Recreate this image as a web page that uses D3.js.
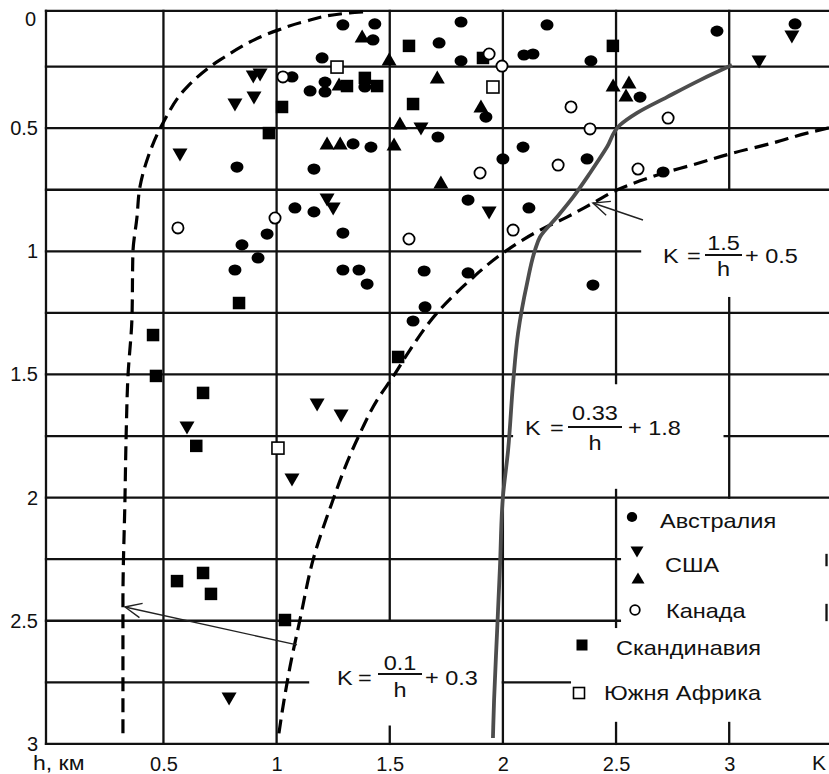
<!DOCTYPE html>
<html><head><meta charset="utf-8">
<script src="https://cdn.jsdelivr.net/npm/d3@7"></script>
<style>
html,body{margin:0;padding:0;background:#fff;}
svg{display:block;font-family:"Liberation Sans",Arial,sans-serif;}
</style></head><body>
<svg id="chart" width="829" height="774"></svg>
<script>
// ---------- DATA (K, h in km) ----------
const australia = [[0.825,0.658],[1.293,0.081],[1.434,0.077],[1.426,0.142],[1.201,0.215],[1.068,0.292],
 [1.214,0.313],[1.148,0.349],[1.214,0.353],[1.39,0.333],[1.718,0.154],[1.815,0.069],[1.815,0.227],
 [2.093,0.203],[2.133,0.199],[2.195,0.081],[1.925,0.455],[1.713,0.536],[1.338,0.564],[1.417,0.577],
 [2.089,0.577],[2.0,0.625],[1.165,0.666],[1.846,0.792],[2.115,0.824],[1.081,0.824],[1.165,0.84],
 [1.293,0.926],[0.958,0.93],[0.847,0.974],[0.918,1.027],[0.816,1.076],[1.293,1.076],[1.364,1.076],
 [1.4,1.133],[1.652,1.08],[1.846,1.088],[1.656,1.226],[1.603,1.283],[2.398,1.137],[2.389,0.227],
 [2.946,0.106],[3.291,0.077],[2.606,0.374],[2.372,0.625],[2.708,0.678]];
const usaDown = [[0.897,0.292],[0.927,0.284],[0.9,0.378],[0.816,0.406],[0.573,0.609],[1.638,0.503],
 [1.939,0.844],[1.223,0.792],[1.25,0.828],[3.277,0.13],[3.132,0.231],[0.604,1.717],[1.179,1.624],
 [1.285,1.669],[1.068,1.929],[0.79,2.818]];
const usaUp = [[1.378,0.126],[1.276,0.321],[1.497,0.219],[1.71,0.292],[1.903,0.41],[1.545,0.479],
 [1.223,0.56],[1.281,0.56],[1.519,0.564],[1.726,0.719],[2.487,0.325],[2.557,0.313],[2.544,0.365]];
const canada = [[1.028,0.292],[1.939,0.199],[1.996,0.248],[0.564,0.905],[0.993,0.865],[1.899,0.682],
 [1.585,0.95],[2.045,0.914],[2.301,0.414],[2.73,0.459],[2.385,0.503],[2.244,0.65],[2.597,0.666]];
const scandinavia = [[0.966,0.52],[1.024,0.414],[1.311,0.329],[1.39,0.296],[1.444,0.329],[1.585,0.166],
 [1.603,0.402],[1.912,0.215],[2.486,0.166],[0.834,1.21],[0.454,1.34],[0.467,1.506],[0.675,1.575],
 [0.645,1.79],[1.537,1.429],[0.56,2.339],[0.675,2.306],[0.71,2.391],[1.037,2.497]];
const southAfrica = [[1.267,0.252],[1.956,0.333],[1.006,1.799]];

// curves (sorted by h)
const curveLow = [[1.382,0.028],[1.324,0.032],[1.117,0.069],[1.006,0.102],[0.75,0.223],[0.604,0.333],
 [0.498,0.479],[0.432,0.617],[0.396,0.739],[0.383,0.861],[0.365,1.007],[0.361,1.267],[0.343,1.51],
 [0.335,1.754],[0.33,2.002],[0.321,2.416],[0.321,2.984]];
const curveHigh = [[3.441,0.499],[3.344,0.52],[3.194,0.56],[3.017,0.601],[2.827,0.652],[2.707,0.683],
 [2.606,0.714],[2.504,0.751],[2.398,0.804],[2.283,0.861],[2.164,0.914],[2.0,1.007],[1.855,1.117],
 [1.709,1.25],[1.589,1.401],[1.514,1.51],[1.444,1.604],[1.369,1.738],[1.31,1.86],[1.249,2.01],
 [1.161,2.253],[1.103,2.497],[1.059,2.688],[1.028,2.85],[1.006,2.984]];
const curveMid = [[3.012,0.244],[2.871,0.305],[2.725,0.374],[2.593,0.438],[2.518,0.487],[2.46,0.577],
 [2.385,0.682],[2.31,0.78],[2.239,0.861],[2.164,0.942],[2.142,0.995],[2.107,1.129],[2.067,1.332],
 [2.045,1.535],[2.023,1.807],[2.0,1.998],[1.987,2.282],[1.974,2.55],[1.961,2.822],[1.956,2.976]];

const xTicks = [0.5,1,1.5,2,2.5,3];
const yTicks = [0,0.5,1,1.5,2,2.5,3];
const legendLabels = ["Австралия","США","Канада","Скандинавия","Южня Африка"];

// ---------- LAYOUT ----------
const svg = d3.select("#chart");
const x = d3.scaleLinear().domain([0,3]).range([50.3,729.2]);
const y = d3.scaleLinear().domain([0,3]).range([5,743.9]);
const K0=-0.019, H0=0.024, KR=3.5, H3=3;

// grid segments: [orientation, fixed, from, to]
const grid = [
 ["h",H0,K0,KR],["h",0.25,K0,KR],["h",0.5,K0,KR],["h",0.75,K0,KR],["h",1,K0,2.606],
 ["h",1.25,K0,KR],["h",1.5,K0,KR],["h",1.75,K0,2.04],["h",1.75,2.98,KR],["h",2,K0,KR],
 ["h",2.25,K0,2.517],["h",2.5,K0,2.517],["h",2.75,K0,1.139],["h",2.75,2.0,2.296],["h",3,K0,KR],
 ["v",K0,H0,H3],["v",0.5,H0,H3],["v",1,H0,H3],["v",1.5,H0,2.5],["v",1.5,2.93,H3],["v",2,H0,H3],
 ["v",2.5,H0,1.535],["v",2.5,1.969,2.525],["v",2.5,2.915,H3],
 ["v",3,H0,0.75],["v",3,1.19,2.0],["v",3,2.915,H3],
 ["v",3.43,2.233,2.274],["v",3.43,2.436,2.497]
];
const gg = svg.append("g").attr("stroke","#111").attr("stroke-width",2.3).attr("stroke-linecap","square");
grid.forEach(s=>{
  if(s[0]==="h") gg.append("line").attr("x1",x(s[2])).attr("x2",x(s[3])).attr("y1",y(s[1])).attr("y2",y(s[1]));
  else gg.append("line").attr("x1",x(s[1])).attr("x2",x(s[1])).attr("y1",y(s[2])).attr("y2",y(s[3]));
});

// curves
const line = d3.line().x(d=>x(d[0])).y(d=>y(d[1])).curve(d3.curveMonotoneY);
svg.append("path").attr("d",line(curveLow)).attr("fill","none").attr("stroke","#000")
  .attr("stroke-width",3.2).attr("stroke-dasharray","14,7");
svg.append("path").attr("d",line(curveHigh)).attr("fill","none").attr("stroke","#000")
  .attr("stroke-width",3.2).attr("stroke-dasharray","14,7");
svg.append("path").attr("d",line(curveMid)).attr("fill","none").attr("stroke","#4d4d4d")
  .attr("stroke-width",3.8);

// arrows
function arrow(from,to){
  const x1=x(from[0]),y1=y(from[1]),x2=x(to[0]),y2=y(to[1]);
  const a=Math.atan2(y1-y2,x1-x2), L=18, s=0.42;
  const g=svg.append("g").attr("stroke","#222").attr("stroke-width",1.4).attr("fill","none");
  g.append("line").attr("x1",x1).attr("y1",y1).attr("x2",x2).attr("y2",y2);
  g.append("path").attr("d",`M${x2+L*Math.cos(a+s)},${y2+L*Math.sin(a+s)}L${x2},${y2}L${x2+L*Math.cos(a-s)},${y2+L*Math.sin(a-s)}`);
}
arrow([2.619,0.873],[2.398,0.804]);
arrow([1.09,2.598],[0.33,2.444]);

// markers
const mk = svg.append("g");
function circleF(g,cx,cy,rx,ry){g.append("ellipse").attr("cx",cx).attr("cy",cy).attr("rx",rx).attr("ry",ry).attr("fill","#000");}
function circleO(g,cx,cy,r){g.append("circle").attr("cx",cx).attr("cy",cy).attr("r",r).attr("fill","#fff").attr("stroke","#000").attr("stroke-width",1.8);}
function tri(g,cx,cy,w,h,down){
  const p = down ? `M${cx-w/2},${cy-h/2}L${cx+w/2},${cy-h/2}L${cx},${cy+h/2}Z`
                 : `M${cx-w/2},${cy+h/2}L${cx+w/2},${cy+h/2}L${cx},${cy-h/2}Z`;
  g.append("path").attr("d",p).attr("fill","#000");
}
function sqF(g,cx,cy,s){g.append("rect").attr("x",cx-s/2).attr("y",cy-s/2).attr("width",s).attr("height",s).attr("fill","#000");}
function sqO(g,cx,cy,s){g.append("rect").attr("x",cx-s/2).attr("y",cy-s/2).attr("width",s).attr("height",s).attr("fill","#fff").attr("stroke","#000").attr("stroke-width",1.6);}

australia.forEach(d=>circleF(mk,x(d[0]),y(d[1]),6.5,5.6));
usaDown.forEach(d=>tri(mk,x(d[0]),y(d[1]),15,13,true));
usaUp.forEach(d=>tri(mk,x(d[0]),y(d[1]),15,13,false));
scandinavia.forEach(d=>sqF(mk,x(d[0]),y(d[1]),12.5));
southAfrica.forEach(d=>sqO(mk,x(d[0]),y(d[1]),12));
canada.forEach(d=>circleO(mk,x(d[0]),y(d[1]),5.6));

// axes
const fs = 20;
const ax = svg.append("g").attr("transform","translate(40,0)")
  .call(d3.axisLeft(y).tickValues(yTicks).tickSize(0).tickPadding(2).tickFormat(d3.format("")));
ax.select(".domain").remove();
ax.selectAll("text").attr("font-size",fs).attr("font-family","Liberation Sans, Arial, sans-serif").attr("fill","#111");
ax.selectAll(".tick").filter(d=>d===0).select("text").attr("dy","1.0em").attr("x",-4);
const bx = svg.append("g").attr("transform","translate(0,742)")
  .call(d3.axisBottom(x).tickValues(xTicks).tickSize(0).tickPadding(15).tickFormat(d3.format("")));
bx.select(".domain").remove();
bx.selectAll("text").attr("font-size",fs).attr("font-family","Liberation Sans, Arial, sans-serif").attr("fill","#111");

// text helper (slightly wide lettering like the scan)
function txt(px,py,s,size,anchor,sx){
  svg.append("text").attr("transform",`translate(${px},${py}) scale(${sx||1.12},1)`)
    .attr("text-anchor",anchor||"start").attr("font-size",size).attr("fill","#111").text(s);
}
txt(33,770,"h, км",20,"start",1.15);
txt(812,770,"K",20,"start",1.05);

// equations
function eq(kx,base,eqx,barx1,barx2,bary,num,numBase,denBase,plusx,rest){
  txt(kx,base,"K",21,"start");
  txt(eqx,base,"=",21,"start");
  svg.append("line").attr("x1",barx1).attr("x2",barx2).attr("y1",bary).attr("y2",bary).attr("stroke","#111").attr("stroke-width",2);
  const c=(barx1+barx2)/2;
  txt(c,numBase,num,21,"middle");
  txt(c,denBase,"h",21,"middle");
  txt(plusx,base,rest,21,"start");
}
eq(663,263,687,705,742,255,"1.5",250,276,745,"+ 0.5");
eq(525,435,550,568,622,427,"0.33",420,450,628,"+ 1.8");
eq(337,685,358,378,422,674,"0.1",670,697,425,"+ 0.3");

// legend
const lg = svg.append("g");
circleF(lg,632,517,5.2,5);
tri(lg,637,552,13,11,true);
tri(lg,638,578,13,11,false);
circleO(lg,635,610,4.8);
sqF(lg,582,645,11);
sqO(lg,579,693,11);
txt(660,528,legendLabels[0],21);
txt(665,572,legendLabels[1],21);
txt(666,618,legendLabels[2],21);
txt(616,655,legendLabels[3],21);
txt(604,700,legendLabels[4],21);
</script>
</body></html>
